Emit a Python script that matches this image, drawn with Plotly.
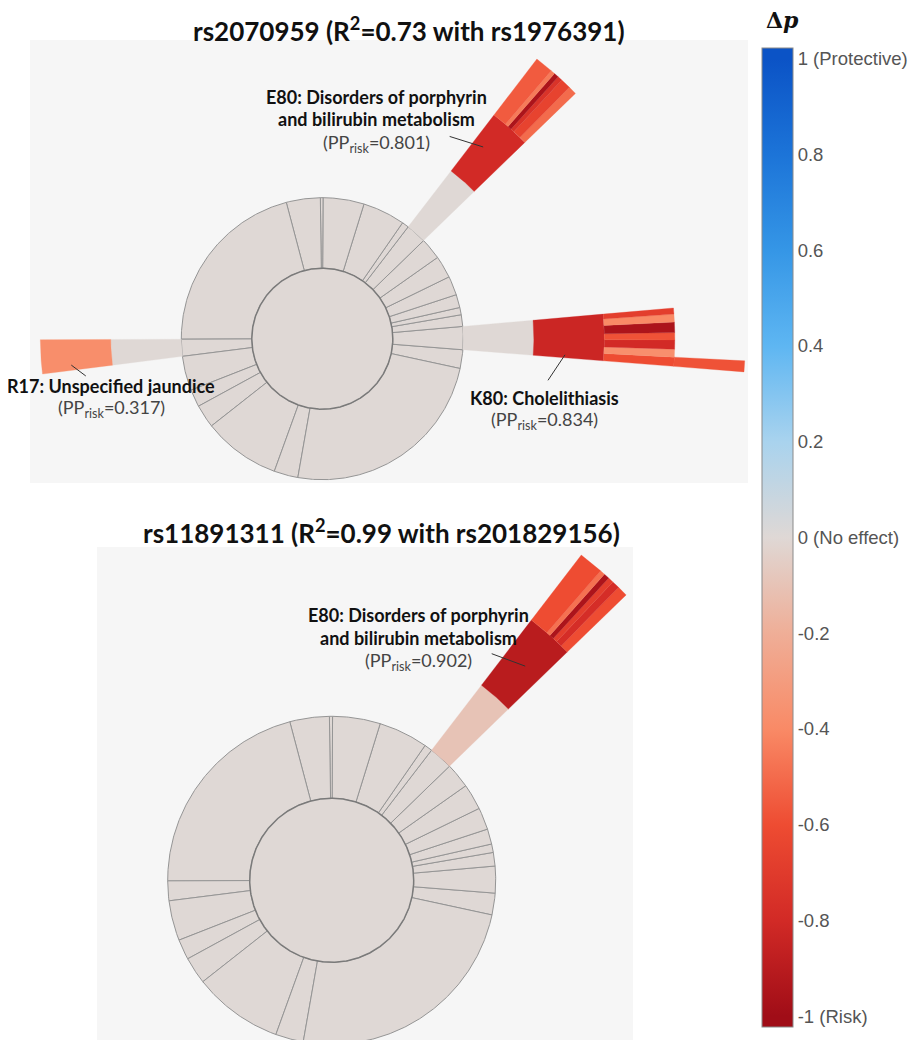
import numpy as np
import plotly.graph_objects as go
from plotly.colors import sample_colorscale, hex_to_rgb

# The page body adds an 8px margin: positions below are given in window pixels
OFF = 8
W, H = 923 - 2 * OFF, 1057 - 2 * OFF

# ---------------- data ----------------
# angular size (degrees) of the first-ring sectors, counter-clockwise from start angle
level1_sizes = [7.7, 9.5, 4.8, 3.0, 5.4, 7.8, 9.2, 8.9, 8.4, 2.8, 17.5, 16.9,
                1.1, 14.0, 75.4, 7.0, 14.2, 7.2, 9.6, 31.9, 9.9, 87.8]
level1_start = -12.2

# colour scale values (delta p) and colours
cbar_values = [-1.0, -0.8, -0.6, -0.4, -0.2, 0.0, 0.2, 0.4, 0.6, 0.8, 1.0]
cbar_colors = ["#a00d17", "#d22a26", "#ee4c32", "#f98a66", "#efae97", "#dfd8d5",
               "#a9d3ee", "#5eb6f2", "#3596e6", "#1c74d8", "#0b53c6"]
cbar_ticktext = ["-1 (Risk)", "-0.8", "-0.6", "-0.4", "-0.2", "0 (No effect)",
                 "0.2", "0.4", "0.6", "0.8", "1 (Protective)"]

# ---- top chart: rs2070959 ----
top_title = "rs2070959 (R<sup>2</sup>=0.73 with rs1976391)"
top_base_dp = 0.0
# K80 branch
top_k80_sector = 1
top_k80_dp = [0.0, -0.83]                       # level 2, level 3
top_k80_l4_sizes = [1.5, 1.3, 1.5, 1.2, 1.7, 1.3, 1.0]
top_k80_l4_dp = [-0.60, -0.37, -0.80, -0.58, -0.95, -0.40, -0.68]
top_k80_l5_sizes = [1.5]
top_k80_l5_dp = [-0.58]
# E80 branch
top_e80_sector = 8
top_e80_dp = [0.0, -0.80]
top_e80_l4_sizes = [1.4, 1.7, 0.8, 0.8, 0.7, 3.0]
top_e80_l4_dp = [-0.50, -0.65, -0.75, -0.95, -0.45, -0.55]
# R17 branch
top_r17_sector = 15
top_r17_dp = [0.0, -0.38]

# ---- bottom chart: rs11891311 ----
bot_title = "rs11891311 (R<sup>2</sup>=0.99 with rs201829156)"
bot_base_dp = 0.0
bot_e80_sector = 8
bot_e80_dp = [-0.10, -0.90]
bot_e80_l4_sizes = [1.5, 1.1, 0.8, 0.8, 0.7, 3.5]
bot_e80_l4_dp = [-0.60, -0.78, -0.68, -0.95, -0.48, -0.60]

# labels
top_labels = [
    ("E80: Disorders of porphyrin", "and bilirubin metabolism", "0.801"),
    ("K80: Cholelithiasis", None, "0.834"),
    ("R17: Unspecified jaundice", None, "0.317"),
]
bot_labels = [("E80: Disorders of porphyrin", "and bilirubin metabolism", "0.902")]

# ---------------- colour mapping ----------------
CMIN, CMAX = -1.0225, 1.0225


def rgbstr(h):
    r, g, b = hex_to_rgb(h)
    return f"rgb({r},{g},{b})"


colorscale = [[0.0, rgbstr(cbar_colors[0])]]
for v, c in zip(cbar_values, cbar_colors):
    colorscale.append([(v - CMIN) / (CMAX - CMIN), rgbstr(c)])
colorscale.append([1.0, rgbstr(cbar_colors[-1])])


def dp_color(dp):
    return sample_colorscale(colorscale, [(dp - CMIN) / (CMAX - CMIN)])[0]


# ---------------- geometry helpers ----------------
def wedge(r0, r1, a0, a1):
    n = max(3, int(abs(a1 - a0) / 0.5) + 2)
    t = np.radians(np.linspace(a0, a1, n))
    xo, yo = r1 * np.cos(t), r1 * np.sin(t)
    if r0 <= 0 and abs(a1 - a0) >= 360:
        return xo, yo
    if r0 > 0:
        xi, yi = r0 * np.cos(t[::-1]), r0 * np.sin(t[::-1])
    else:
        xi, yi = np.array([0.0]), np.array([0.0])
    x = np.concatenate([xo, xi, xo[:1]])
    y = np.concatenate([yo, yi, yo[:1]])
    return x, y


bounds = level1_start + np.concatenate([[0], np.cumsum(level1_sizes)])

fig = go.Figure()


def add_poly(x, y, fill, line_color, line_width, xa, ya):
    fig.add_trace(go.Scatter(x=x, y=y, mode="lines", fill="toself", fillcolor=fill,
                             line=dict(color=line_color, width=line_width),
                             xaxis=xa, yaxis=ya, hoverinfo="skip", showlegend=False))


def draw_base(xa, ya, base_dp):
    col = dp_color(base_dp)
    for i in range(len(level1_sizes)):
        x, y = wedge(1, 2, bounds[i], bounds[i + 1])
        add_poly(x, y, col, "#959595", 1, xa, ya)
    x, y = wedge(0, 1, 0, 360)
    add_poly(x, y, col, "#7a7a7a", 1.5, xa, ya)


def draw_branch(xa, ya, sector, dps, l4_sizes=None, l4_dp=None, l5_sizes=None, l5_dp=None):
    a0, a1 = bounds[sector], bounds[sector + 1]
    for k, dp in enumerate(dps):
        x, y = wedge(2 + k, 3 + k, a0, a1)
        c = dp_color(dp)
        add_poly(x, y, c, c, 0.3, xa, ya)
    if l4_sizes:
        s = a0
        for sz, dp in zip(l4_sizes, l4_dp):
            x, y = wedge(4, 5, s, s + sz)
            c = dp_color(dp)
            add_poly(x, y, c, c, 0.3, xa, ya)
            s += sz
    if l5_sizes:
        s = a0
        for sz, dp in zip(l5_sizes, l5_dp):
            x, y = wedge(5, 6, s, s + sz)
            c = dp_color(dp)
            add_poly(x, y, c, c, 0.3, xa, ya)
            s += sz


# top
draw_base("x", "y", top_base_dp)
draw_branch("x", "y", top_k80_sector, top_k80_dp, top_k80_l4_sizes, top_k80_l4_dp,
            top_k80_l5_sizes, top_k80_l5_dp)
draw_branch("x", "y", top_e80_sector, top_e80_dp, top_e80_l4_sizes, top_e80_l4_dp)
draw_branch("x", "y", top_r17_sector, top_r17_dp)
# bottom
draw_base("x2", "y2", bot_base_dp)
draw_branch("x2", "y2", bot_e80_sector, bot_e80_dp, bot_e80_l4_sizes, bot_e80_l4_dp)


def px2x(px):
    return (px - OFF) / W


def px2y(py):
    return 1 - (py - OFF) / H


# colourbar carrier
fig.add_trace(go.Scatter(
    x=[0, 0], y=[0, 0], mode="markers", xaxis="x", yaxis="y", hoverinfo="skip",
    showlegend=False,
    marker=dict(size=0.1, opacity=0, color=[CMIN, CMAX], cmin=CMIN, cmax=CMAX,
                colorscale=colorscale, showscale=True,
                colorbar=dict(x=px2x(762), xanchor="left", xpad=0, thickness=31,
                              lenmode="pixels", len=979, y=px2y(48), yanchor="top",
                              ypad=0, outlinecolor="#8a8a8a", outlinewidth=1,
                              tickvals=cbar_values, ticktext=cbar_ticktext, ticks="",
                              tickfont=dict(family="Liberation Sans, Arial", size=18.5,
                                            color="#555")))))

# ---------------- layout ----------------
# pixel frames of the two panels (window pixels)
TOP = dict(x0=30, x1=748, y0=40, y1=483, cx=322.3, cy=338.7, u=70.5)
BOT = dict(x0=97, x1=633, y0=547, y1=1040, cx=331.7, cy=880.3, u=82.0)


def axes(p):
    xd = [px2x(p["x0"]), px2x(p["x1"])]
    yd = [px2y(p["y1"]), px2y(p["y0"])]
    xr = [(p["x0"] - p["cx"]) / p["u"], (p["x1"] - p["cx"]) / p["u"]]
    yr = [(p["cy"] - p["y1"]) / p["u"], (p["cy"] - p["y0"]) / p["u"]]
    return (dict(domain=xd, range=xr, visible=False, fixedrange=True),
            dict(domain=yd, range=yr, visible=False, fixedrange=True))


xa1, ya1 = axes(TOP)
xa2, ya2 = axes(BOT)
xa2["anchor"] = "y2"
ya2["anchor"] = "x2"

annotations = []


def ptext(px, py, text, size, bold=False, color="#111", family="Lato", **kw):
    annotations.append(dict(xref="paper", yref="paper", x=px2x(px), y=px2y(py),
                            text=f"<b>{text}</b>" if bold else text, showarrow=False,
                            xanchor="center", yanchor="middle",
                            font=dict(family=family, size=size, color=color), **kw))


ptext(409, 30, top_title, 26, bold=True)
ptext(381, 531, bot_title, 26, bold=True)

# colorbar title
ptext(782, 20, "<b>Δ<i>p</i></b>", 22, family="DejaVu Serif")


def label_block(cx, ys, lab):
    l1, l2, val = lab
    ptext(cx, ys[0], l1, 18, bold=True)
    if l2:
        ptext(cx, ys[1], l2, 18, bold=True)
    ptext(cx, ys[-1], "(PP<sub>risk</sub>=" + val + ")", 18, color="#444")


label_block(376, [97, 119, 143], top_labels[0])
label_block(544, [398, 420], top_labels[1])
label_block(111, [386, 409], top_labels[2])
label_block(418, [615, 638, 661], bot_labels[0])


def leader(xr, yr, r, ang, ax, ay):
    t = np.radians(ang)
    annotations.append(dict(xref=xr, yref=yr, x=r * np.cos(t), y=r * np.sin(t),
                            ax=ax, ay=ay, text="", showarrow=True, arrowhead=0,
                            arrowwidth=1, arrowcolor="#333"))


leader("x", "y", 3.55, 50.0, -35, -11)
leader("x", "y", 3.45, -3.8, -18, 27)
leader("x", "y", 3.58, 186.0, 16, 12)
leader("x2", "y2", 3.52, 47.9, -35, -13)

fig.update_layout(
    width=W, height=H, margin=dict(l=0, r=0, t=0, b=0),
    paper_bgcolor="white", plot_bgcolor="#f6f6f6",
    xaxis=xa1, yaxis=ya1, xaxis2=xa2, yaxis2=ya2,
    annotations=annotations, hovermode=False, showlegend=False,
)

fig.write_html("out.html")
